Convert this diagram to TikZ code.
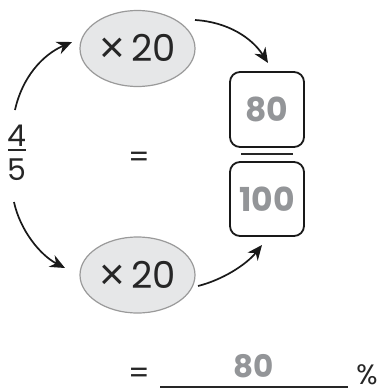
\documentclass[tikz,border=0pt]{standalone}
\usepackage{fontspec}
\setmainfont{Poppins}
\newfontfamily\timesfont{Liberation Sans}
\usetikzlibrary{arrows.meta,shapes.geometric}
\definecolor{ellfill}{HTML}{E6E7E8}
\definecolor{elldraw}{HTML}{9A9A9A}
\definecolor{ansgrey}{HTML}{939598}
\tikzset{
  op/.style={ellipse,draw=elldraw,fill=ellfill,line width=1.2pt,minimum width=115pt,minimum height=76pt,inner sep=0pt,font=\fontsize{37}{40}\selectfont,text=black!85},
  ansbox/.style={draw=black!90,rounded corners=10pt,line width=1.8pt,minimum width=74pt,inner sep=0pt,font=\fontsize{33}{35}\selectfont\bfseries,text=ansgrey},
  flow/.style={line width=1.7pt,black!90,-{Stealth[length=15pt,width=13pt]}},
  plain/.style={font=\fontsize{30}{32}\selectfont,text=black!85,inner sep=0pt}
}
\newcommand{\timessign}{{\timesfont\fontsize{44}{44}\selectfont\raisebox{-1pt}{×}}}
\begin{document}
\begin{tikzpicture}[x=1pt,y=-1pt]
\useasboundingbox (0,0) rectangle (383,391);
\node[op] (e1) at (137.5,48.5) {\timessign\,20};
\node[op] (e2) at (137.5,275) {\timessign\,20};
\node[ansbox,minimum height=75pt] (b1) at (267,109.5) {80};
\node[ansbox,minimum height=74pt] (b2) at (267,199) {100};
\draw[line width=2pt,black!85] (241,154) -- (293,154);
\node[plain] (n4) at (17,136) {4};
\draw[line width=1.5pt,black!85] (8,150) -- (26,150);
\node[plain] (n5) at (17,170) {5};
\node[plain] (eq1) at (139,160) {=};
\node[plain] (eq2) at (139,376) {=};
\node[font=\fontsize{31}{33}\selectfont\bfseries,text=ansgrey,inner sep=0pt] (ans) at (254,366) {80};
\coordinate (ul) at (160,387);
\coordinate (ur) at (348,387);
\draw[line width=1.5pt,black!85] (ul) -- (ur);
\node[plain,font=\fontsize{28}{30}\selectfont] (pc) at (367,375) {\%};
\coordinate (a1s) at (15,110);
\coordinate (a1e) at (72,42);
\coordinate (a2s) at (195,20);
\coordinate (a2e) at (268,63);
\coordinate (a3s) at (14,202);
\coordinate (a3e) at (65,268);
\coordinate (a4s) at (198,286);
\coordinate (a4e) at (262,245);
\draw[flow] (a1s) .. controls (22,78) and (42,55) .. (a1e);
\draw[flow] (a2s) .. controls (228,22) and (252,38) .. (a2e);
\draw[flow] (a3s) .. controls (20,230) and (40,255) .. (a3e);
\draw[flow] (a4s) .. controls (222,280) and (246,265) .. (a4e);
\end{tikzpicture}
\end{document}
